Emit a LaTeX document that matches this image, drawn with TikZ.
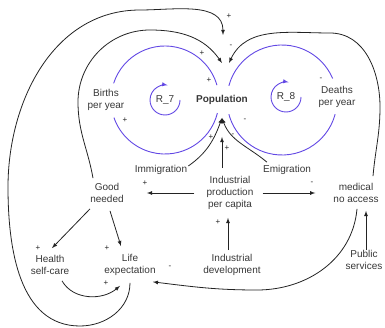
\documentclass[tikz,border=0pt]{standalone}
\usepackage{fontspec}
\setmainfont{Liberation Sans}
\usetikzlibrary{arrows.meta}
\tikzset{>=latex}
\definecolor{loopblue}{RGB}{98,72,228}
\definecolor{ink}{RGB}{35,35,35}
\definecolor{txt}{RGB}{55,55,55}

\begin{document}
\begin{tikzpicture}[x=1pt, y=1pt,
    var/.style={font=\fontsize{10}{12}\selectfont, text=txt, align=center, inner sep=0pt},
    sign/.style={font=\fontsize{8}{9}\selectfont, text=ink, inner sep=0pt},
    cause/.style={ink, line width=0.8pt, ->},
    blueloop/.style={loopblue, line width=0.9pt}]
  \useasboundingbox (0,0) rectangle (385,327);

  % variables
  \node[var, font=\fontsize{10}{12}\selectfont\bfseries] (pop) at (222,227) {Population};
  \node[var] (births) at (106,227) {Births\\per year};
  \node[var] (deaths) at (337,230) {Deaths\\per year};
  \node[var] (r7) at (165,227) {R\_7};
  \node[var] (r8) at (286,230) {R\_8};
  \node[var] (immig) at (161,157) {Immigration};
  \node[var] (emig) at (287,157) {Emigration};
  \node[var] (good) at (107,134) {Good\\needed};
  \node[var] (indprod) at (230,134) {Industrial\\production\\per capita};
  \node[var] (medical) at (356,134) {medical\\no access};
  \node[var] (inddev) at (232,62) {Industrial\\development};
  \node[var] (public) at (364,67) {Public\\services};
  \node[var] (health) at (50,62) {Health\\self-care};
  \node[var] (life) at (130,62) {Life\\expectation};

  % arrow ends round Population
  \coordinate (pop-t1) at ([shift={(1,65)}]pop.center);
  \coordinate (pop-t2) at ([shift={(0,37)}]pop.center);
  \coordinate (pop-t3) at ([shift={(7,37)}]pop.center);
  \coordinate (pop-b1) at ([shift={(0,-18)}]pop.center);
  \coordinate (pop-b2) at ([shift={(0,-37)}]pop.center);

  % births and deaths loops
  \coordinate (lc) at (165,227);
  \coordinate (rc) at (282,227);
  \draw[blueloop] (lc) ++(162:54) arc[start angle=162, end angle=16, radius=54];
  \draw[blueloop] (lc) ++(-14:54) arc[start angle=-14, end angle=-161, radius=54];
  \draw[blueloop] (rc) ++(165:55) arc[start angle=165, end angle=23, radius=55];
  \draw[blueloop] (rc) ++(-15:55) arc[start angle=-15, end angle=-165, radius=55];
  \draw[blueloop, ->] (r7.center) ++(0:15) arc[start angle=0, end angle=-280, radius=15];
  \draw[blueloop, ->] (r8.center) ++(0:15) arc[start angle=0, end angle=-280, radius=15];

  % links into Population
  \draw[cause] ([yshift=-7pt]life.south) to[out=-90,in=0] (80,1) to[out=180,in=-90] (8,140)
    to[out=90,in=180] (140,317) to[out=0,in=90] (pop-t1);
  \draw[cause] ([shift={(-14pt,5pt)}]good.north) to[out=100,in=-90] (78,225)
    to[out=90,in=180] (150,297) to[out=0,in=125] (pop-t2);
  \draw[cause] ([shift={(17pt,7pt)}]medical.north) to[out=85,in=-90] (380,220)
    to[out=90,in=0] (330,294) to[out=180,in=65] (pop-t3);
  \draw[cause] ([shift={(1pt,4pt)}]immig.east) to[out=35,in=-110] (pop-b1);
  \draw[cause] ([shift={(4pt,3pt)}]emig.north west) to[out=140,in=-70] (pop-b1);
  \draw[cause] ([shift={(-8pt,8pt)}]indprod.north) -- (pop-b2);

  % lower links
  \draw[cause] ([xshift=-12pt]indprod.west) -- ([xshift=23pt]good.east);
  \draw[cause] ([xshift=9pt]indprod.east) -- ([xshift=-18pt]medical.west);
  \draw[cause] ([shift={(-4pt,4pt)}]inddev.north) -- ([shift={(-2pt,-8pt)}]indprod.south);
  \draw[cause] ([xshift=2pt]public.north) -- ([shift={(10pt,-8pt)}]medical.south);
  \draw[cause] ([shift={(1pt,-6pt)}]medical.south) to[out=-95,in=0] (257,37)
    to[out=180,in=-7] ([shift={(-3pt,-6pt)}]life.south east);
  \draw[cause] ([shift={(-17pt,-6pt)}]good.south) -- ([shift={(2pt,7pt)}]health.north);
  \draw[cause] ([shift={(3pt,-8pt)}]good.south) -- ([shift={(-9pt,8pt)}]life.north);
  \draw[cause] ([shift={(12pt,-6pt)}]health.south) to[out=-60,in=-140] ([shift={(-10pt,-10pt)}]life.south);

  % polarities
  \foreach \x/\y/\s [count=\i] in {229/311/+, 231/281/-, 202/274/+, 209/247/+, 125/207/+,
      321/248/-, 245/207/-, 211/190/+, 233/192/-, 227/179/+, 145/144/+, 312/144/-,
      218/105/+, 38/79/+, 107/79/+, 106/44/+, 170/60/-}
    \node[sign] (sign\i) at (\x,\y) {\s};
\end{tikzpicture}
\end{document}
